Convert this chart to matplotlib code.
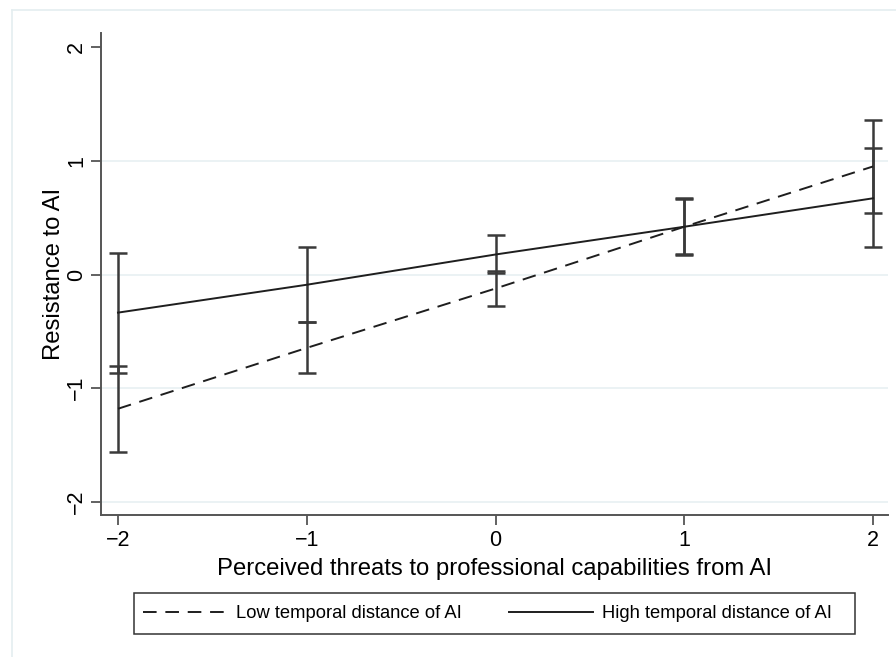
import matplotlib
matplotlib.use("Agg")
import matplotlib.pyplot as plt
from matplotlib.lines import Line2D
from matplotlib.patches import Rectangle

plt.rcParams['font.family'] = ['Liberation Sans', 'DejaVu Sans']

# valores (margins)
amenaza = [-2, -1, 0, 1, 2]
baja_media = [-1.18, -0.645, -0.123, 0.42, 0.95]
baja_inf = [-1.56, -0.87, -0.28, 0.175, 0.545]
baja_sup = [-0.80, -0.42, 0.034, 0.665, 1.36]
alta_media = [-0.335, -0.09, 0.176, 0.42, 0.67]
alta_inf = [-0.87, -0.42, 0.01, 0.18, 0.24]
alta_sup = [0.185, 0.24, 0.343, 0.67, 1.11]
yticks = [-2, -1, 0, 1, 2]
xticks = [-2, -1, 0, 1, 2]

gris = '#3a3a3a'

fig = plt.figure(figsize=(8.96, 6.57), dpi=100)
ax = fig.add_axes([101/896, 1-515/657, 787/896, 482/657])

# intervalos de confianza
for medias, inf, sup in ((baja_media, baja_inf, baja_sup), (alta_media, alta_inf, alta_sup)):
    err = [[m - i for m, i in zip(medias, inf)], [s - m for m, s in zip(medias, sup)]]
    ax.errorbar(amenaza, medias, yerr=err, fmt='none', ecolor=gris,
                elinewidth=1.8, capsize=6.5, capthick=1.8, zorder=2)

ax.plot(amenaza, baja_media, color='#1e1e1e', lw=1.4, dashes=(7, 4.5), zorder=3,
        label='Low temporal distance of AI')
ax.plot(amenaza, alta_media, color='#1e1e1e', lw=1.4, zorder=3,
        label='High temporal distance of AI')

for y in yticks[:-1]:
    ax.axhline(y, color='#e8f0f2', lw=1.2, zorder=0)

ax.set_xlim(-2.09, 2.079)
ax.set_ylim(-2.114, 2.123)
ax.set_xticks(xticks)
ax.set_yticks(yticks)
ax.set_xticklabels(['\u22122', '\u22121', '0', '1', '2'], fontsize=15.5)
ax.set_yticklabels(['\u22122', '\u22121', '0', '1', '2'], fontsize=15.5,
                   rotation=90, va='center')
ax.tick_params(direction='out', length=7, width=1.3, color='#555555', pad=4)
ax.tick_params(axis='y', pad=3)
for lado in ('top', 'right'):
    ax.spines[lado].set_visible(False)
for lado in ('left', 'bottom'):
    ax.spines[lado].set_color('#555555')
    ax.spines[lado].set_linewidth(1.4)

ax.set_xlabel('Perceived threats to professional capabilities from AI', fontsize=17.2, labelpad=5)
ax.set_ylabel('Resistance to AI', fontsize=17.2, labelpad=1)

# marco exterior claro
fig.add_artist(Line2D([12/896, 12/896], [0, 1-10/657], color='#e4eef0', lw=1.2))
fig.add_artist(Line2D([12/896, 1], [1-10/657, 1-10/657], color='#e4eef0', lw=1.2))

# leyenda: caja aparte y contenido sin marco
fig.add_artist(Rectangle((134/896, 1-634/657), 721/896, 41/657, transform=fig.transFigure,
                         facecolor='white', edgecolor='#333333', lw=1.1))
leg = fig.legend(loc='center left', ncol=2, bbox_to_anchor=(143/896, 1-613.5/657),
                 fontsize=13.2, handlelength=4.6, handletextpad=0.45, columnspacing=2.6,
                 frameon=False, borderaxespad=0, borderpad=0)

plt.savefig('out.png', dpi=100)
